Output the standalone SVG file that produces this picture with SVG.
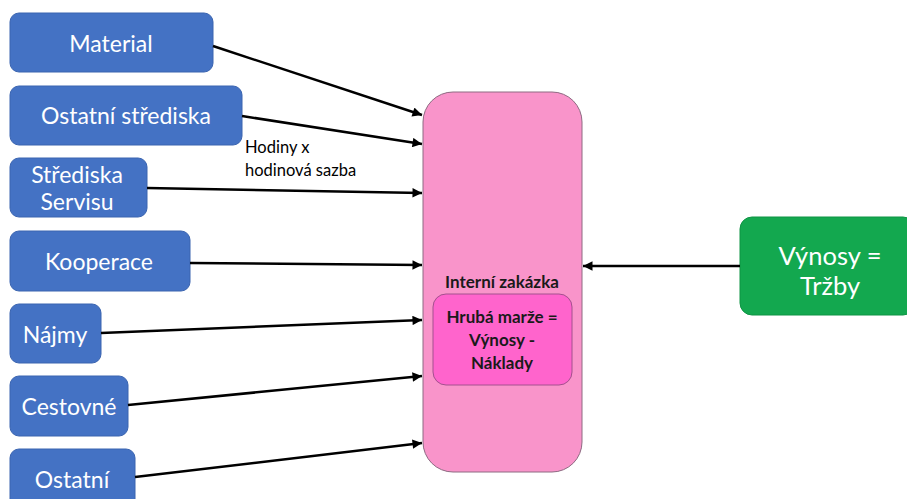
<svg xmlns="http://www.w3.org/2000/svg" width="907" height="499" viewBox="0 0 907 499">
<defs>
<marker id="ah" viewBox="0 0 10 10" refX="10" refY="5" markerWidth="4.4" markerHeight="3.8" orient="auto" markerUnits="strokeWidth">
<path d="M0,0 L10,5 L0,10 z" fill="#000"/>
</marker>
<style>
.src rect{fill:#4472C4;stroke:#3A64B0;stroke-width:1}
.src text{fill:#fff;font-family:Lato,"Liberation Sans",sans-serif;font-size:23px;text-anchor:middle}
.conn line{stroke:#000;stroke-width:2.5;marker-end:url(#ah)}
.lbl{font-family:Lato,"Liberation Sans",sans-serif;font-size:16.5px;fill:#000}
.bold{font-family:Lato,"Liberation Sans",sans-serif;font-size:17px;font-weight:bold;fill:#1a1a1a;text-anchor:middle}
.big{fill:#fff;font-family:Lato,"Liberation Sans",sans-serif;font-size:25.5px;text-anchor:middle}
</style>
</defs>
<rect width="907" height="499" fill="#fff"/>

<g id="material" class="src"><rect x="10" y="13" width="203" height="59" rx="9"/><text x="111" y="52">Material</text></g>
<g id="ostatni-strediska" class="src"><rect x="10" y="86" width="232" height="59" rx="9"/><text x="126" y="124">Ostatní střediska</text></g>
<g id="strediska-servisu" class="src"><rect x="10" y="158" width="137" height="59" rx="9"/><text x="77" y="183">Střediska</text><text x="77" y="210">Servisu</text></g>
<g id="kooperace" class="src"><rect x="10" y="231" width="180" height="60" rx="9"/><text x="99" y="270">Kooperace</text></g>
<g id="najmy" class="src"><rect x="10" y="304" width="91" height="59" rx="9"/><text x="55" y="343">Nájmy</text></g>
<g id="cestovne" class="src"><rect x="10" y="376" width="118" height="60" rx="9"/><text x="69" y="415">Cestovné</text></g>
<g id="ostatni" class="src"><rect x="10" y="449" width="125" height="60" rx="9"/><text x="72" y="488">Ostatní</text></g>

<g id="interni-zakazka">
<rect x="423" y="92" width="159" height="380" rx="30" fill="#F994CA" stroke="#8E6A82" stroke-width="1"/>
<text class="bold" x="502" y="288">Interní zakázka</text>
<g id="hruba-marze">
<rect x="433" y="294" width="139" height="91" rx="13" fill="#FF64CC" stroke="#A4508E" stroke-width="1"/>
<text class="bold" x="502" y="323">Hrubá marže =</text>
<text class="bold" x="502" y="346">Výnosy -</text>
<text class="bold" x="502" y="369">Náklady</text>
</g>
</g>

<g id="vynosy">
<rect x="740" y="217" width="175" height="98" rx="12" fill="#13A84F" stroke="#0F9444" stroke-width="1"/>
<text class="big" x="830" y="265">Výnosy =</text>
<text class="big" x="830" y="295">Tržby</text>
</g>

<g id="connectors" class="conn">
<line x1="213" y1="46" x2="422" y2="115"/>
<line x1="242" y1="116" x2="422" y2="144"/>
<line x1="147" y1="188" x2="422" y2="193"/>
<line x1="190" y1="263" x2="422" y2="265"/>
<line x1="101" y1="333" x2="422" y2="320"/>
<line x1="128" y1="405" x2="422" y2="376"/>
<line x1="135" y1="477" x2="422" y2="443"/>
<line x1="740" y1="266" x2="583" y2="266"/>
</g>
<text class="lbl" x="245" y="153">Hodiny x</text>
<text class="lbl" x="245" y="176">hodinová sazba</text>
</svg>
